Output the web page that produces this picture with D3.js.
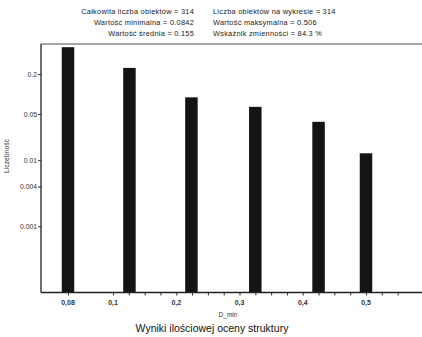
<!DOCTYPE html>
<html><head><meta charset="utf-8">
<script src="https://cdn.jsdelivr.net/npm/d3@7"></script>
<style>
html,body{margin:0;padding:0;background:#fff;}
svg{display:block;font-family:"Liberation Sans",Arial,sans-serif;}
</style></head>
<body>
<svg id="chart" width="422" height="337"></svg>
<script>
// data
const binCenters = [0.08, 0.126, 0.224, 0.325, 0.425, 0.5];
const frequencies = [0.51, 0.248, 0.089, 0.064, 0.038, 0.0127];
const xTickValues = [0.08, 0.1, 0.2, 0.3, 0.4, 0.5];
const xTickLabels = ["0,08", "0,1", "0,2", "0,3", "0,4", "0,5"];
const xMinorTicks = [0.08, 0.1, 0.125, 0.15, 0.175, 0.2, 0.225, 0.25, 0.275, 0.3, 0.325, 0.35, 0.375, 0.4, 0.425, 0.45, 0.475, 0.5, 0.525, 0.55];
const yTickValues = [0.2, 0.05, 0.01, 0.004, 0.001];
const yTickLabels = ["0.2", "0.05", "0.01", "0.004", "0.001"];
const statsLeft = ["Całkowita liczba obiektów = 314", "Wartość minimalna = 0.0842", "Wartość średnia = 0.155"];
const statsRight = ["Liczba obiektów na wykresie = 314", "Wartość maksymalna = 0.506", "Wskaźnik zmienności = 84.3 %"];
const xTitle = "D_min";
const yTitle = "Liczebność";
const chartTitle = "Wyniki ilościowej oceny struktury";

const svg = d3.select("#chart");
const pLeft = 41, pTop = 44, pBottom = 292.5, pRight = 422;

const x = d3.scaleLinear().domain([0.08, 0.1, 0.5]).range([68, 113, 366]);
const y = d3.scaleLog().domain([1e-4, 0.57]).range([pBottom, pTop]);

// stats
const sg = svg.append("g").attr("font-size", 7.4).attr("fill", "#222").attr("letter-spacing", 0.25);
statsLeft.forEach((t, i) => {
  sg.append("text").attr("x", 194).attr("y", 13.5 + i * 11).attr("text-anchor", "end").text(t);
});
statsRight.forEach((t, i) => {
  sg.append("text").attr("x", 213).attr("y", 13.5 + i * 11).attr("text-anchor", "start").text(t);
});

// frame top line
svg.append("line").attr("x1", pLeft).attr("x2", pRight).attr("y1", pTop).attr("y2", pTop)
  .attr("stroke", "#888").attr("stroke-width", 1.5);

// bars
const bw = 12.5;
svg.append("g").selectAll("rect").data(binCenters).join("rect")
  .attr("x", (d) => x(d) - bw / 2)
  .attr("width", bw)
  .attr("y", (d, i) => y(frequencies[i]))
  .attr("height", (d, i) => pBottom - y(frequencies[i]))
  .attr("fill", "#141414");

// x axis
const xAxis = d3.axisBottom(x).tickValues(xMinorTicks).tickSize(3).tickFormat("");
const gx = svg.append("g").attr("transform", `translate(0,${pBottom})`).call(xAxis);
gx.select(".domain").remove();
gx.selectAll(".tick line").attr("stroke", "#333");
svg.append("line").attr("x1", pLeft).attr("x2", pRight).attr("y1", pBottom).attr("y2", pBottom)
  .attr("stroke", "#222").attr("stroke-width", 1.3);
const xl = svg.append("g").attr("font-size", 7).attr("font-weight", "bold").attr("fill", "#333");
xTickValues.forEach((v, i) => {
  xl.append("text").attr("x", x(v)).attr("y", 305).attr("text-anchor", "middle").text(xTickLabels[i]);
});
svg.append("text").attr("x", 228).attr("y", 316.5).attr("text-anchor", "middle")
  .attr("font-size", 6.5).attr("fill", "#333").text(xTitle);

// y axis
const yAxis = d3.axisLeft(y).tickValues(yTickValues).tickSize(3)
  .tickFormat((d, i) => yTickLabels[i]);
const gy = svg.append("g").attr("transform", `translate(${pLeft},0)`).call(yAxis);
gy.select(".domain").remove();
gy.selectAll(".tick text").attr("font-size", 6.8).attr("fill", "#333")
  .attr("font-family", "Liberation Sans, Arial, sans-serif").attr("x", -4);
gy.selectAll(".tick line").attr("stroke", "#333");
svg.append("line").attr("x1", pLeft).attr("x2", pLeft).attr("y1", pTop).attr("y2", pBottom)
  .attr("stroke", "#222").attr("stroke-width", 1.3);
svg.append("text").attr("transform", "translate(9,156) rotate(-90)").attr("text-anchor", "middle")
  .attr("font-size", 6.8).attr("fill", "#333").text(yTitle);

// chart title
svg.append("text").attr("x", 212).attr("y", 332).attr("text-anchor", "middle")
  .attr("font-size", 10.5).attr("fill", "#111").text(chartTitle);
</script>
</body></html>
